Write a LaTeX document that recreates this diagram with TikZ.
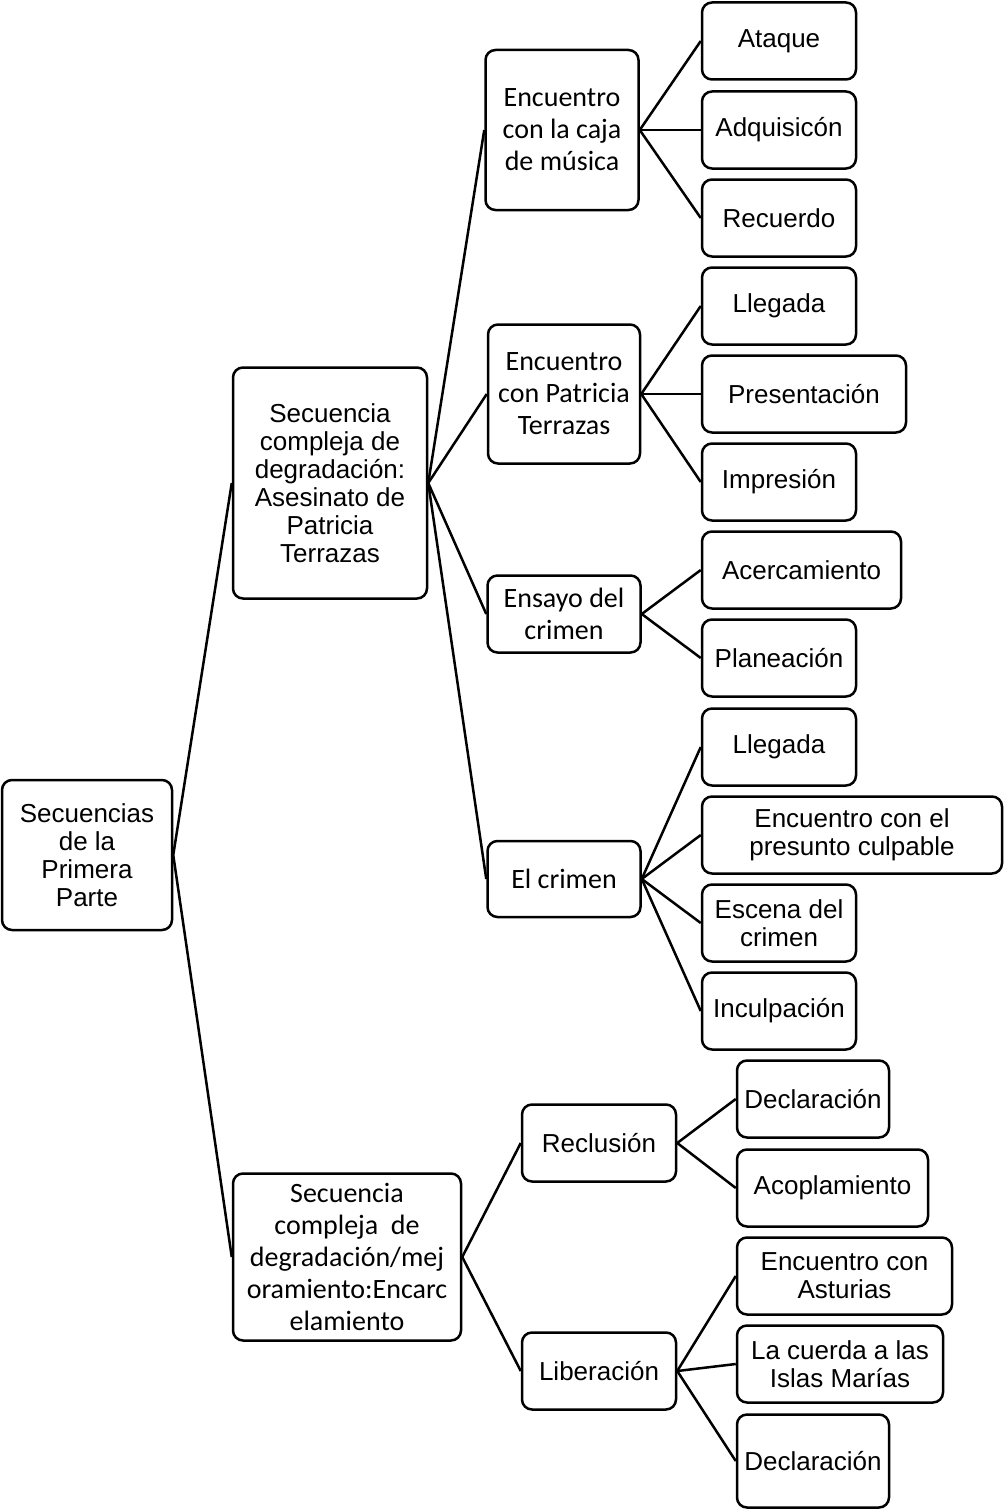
\documentclass[tikz,border=0pt]{standalone}
\usepackage{fontspec}
\setmainfont{Liberation Sans}
\newfontfamily\calibrifont{Carlito}

\begin{document}
\begin{tikzpicture}[x=1pt,y=-1pt]

\tikzstyle{every node}=[draw,rounded corners=10pt,line width=2.5pt,align=center,inner sep=0pt,anchor=center,font=\fontsize{26}{28}\selectfont];
\tikzstyle{cal}=[font=\calibrifont\fontsize{28}{32}\selectfont];
\tikzstyle{leaf}=[minimum width=154,minimum height=77];

\useasboundingbox (0,0) rectangle (1004,1509);

% Root and the two complex sequences
\node[minimum width=170,minimum height=150] (n0) at (87,855) {Secuencias\\de la\\Primera\\Parte};
\node[minimum width=194,minimum height=231] (n1) at (330,483) {Secuencia\\compleja de\\degradación:\\Asesinato de\\Patricia\\Terrazas};
\node[cal,minimum width=228,minimum height=167] (n2) at (347,1257) {Secuencia\\compleja\ \ de\\degradación/mej\\oramiento:Encarc\\elamiento};

% Middle level
\node[cal,minimum width=153,minimum height=160] (n3) at (562,130) {Encuentro\\con la caja\\de música};
\node[cal,minimum width=152,minimum height=139] (n4) at (564,394) {Encuentro\\con Patricia\\Terrazas};
\node[cal,minimum width=153,minimum height=77] (n5) at (564,614) {Ensayo del\\crimen};
\node[cal,minimum width=153,minimum height=76] (n6) at (564,879) {El crimen};
\node[leaf] (n7) at (599,1143) {Reclusión};
\node[leaf] (n8) at (599,1371) {Liberación};

% Leaves
\node[leaf] (n9) at (779,41) {Ataque};
\node[leaf] (n10) at (779,130) {Adquisicón};
\node[leaf] (n11) at (779,218) {Recuerdo};
\node[leaf] (n12) at (779,306) {Llegada};
\node[leaf,minimum width=204] (n13) at (804,394) {Presentación};
\node[leaf] (n14) at (779,482) {Impresión};
\node[leaf,minimum width=199] (n15) at (801.5,570) {Acercamiento};
\node[leaf] (n16) at (779,658) {Planeación};
\node[leaf] (n17) at (779,747) {Llegada};
\node[leaf,minimum width=300] (n18) at (852,835) {Encuentro con el\\presunto culpable};
\node[leaf] (n19) at (779,923) {Escena del\\crimen};
\node[leaf] (n20) at (779,1011) {Inculpación};
\node[leaf,minimum width=152] (n21) at (813,1099) {Declaración};
\node[leaf,minimum width=191] (n22) at (832.5,1188) {Acoplamiento};
\node[leaf,minimum width=215] (n23) at (844.5,1276) {Encuentro con\\Asturias};
\node[leaf,minimum width=206] (n24) at (840,1364) {La cuerda a las\\Islas Marías};
\node[leaf,minimum width=152,minimum height=93] (n25) at (813,1461) {Declaración};

% Branches
\foreach \a/\b in {n0/n1,n0/n2,n1/n3,n1/n4,n1/n5,n1/n6,n2/n7,n2/n8,
  n3/n9,n3/n10,n3/n11,n4/n12,n4/n13,n4/n14,n5/n15,n5/n16,
  n6/n17,n6/n18,n6/n19,n6/n20,n7/n21,n7/n22,n8/n23,n8/n24,n8/n25}
  \draw[line width=2.5pt] (\a.east) -- (\b.west);

\end{tikzpicture}
\end{document}
